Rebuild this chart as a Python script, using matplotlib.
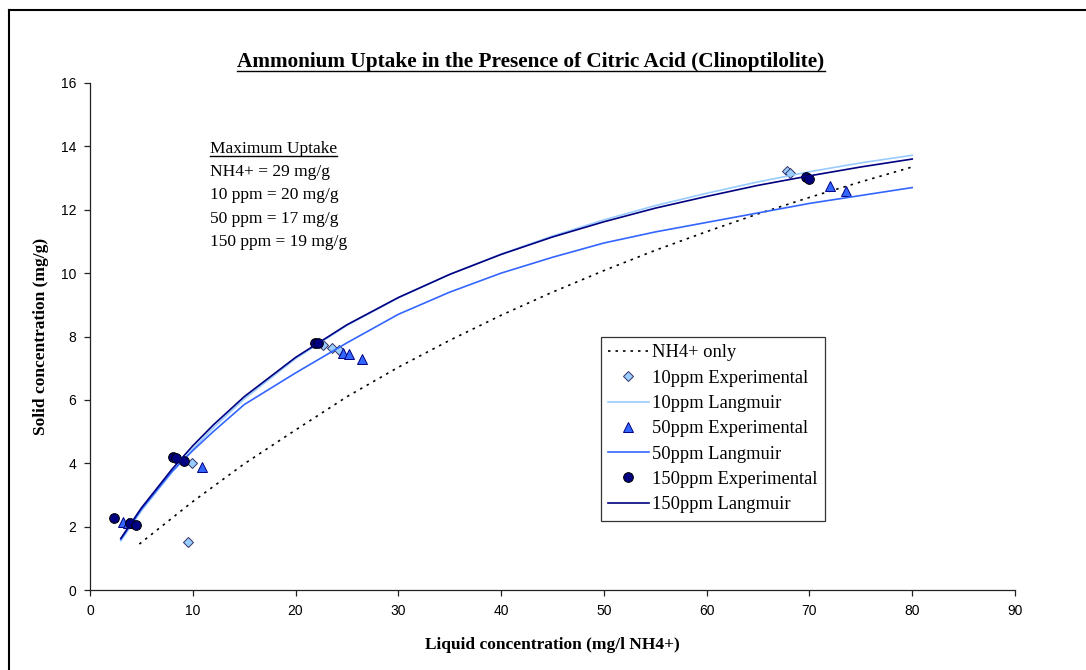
import numpy as np
import matplotlib.pyplot as plt
from matplotlib.lines import Line2D

# experimental points
x_10 = [9.5, 9.9, 22.7, 23.5, 24.2, 67.8, 68.1]
y_10 = [1.51, 4.02, 7.73, 7.65, 7.57, 13.22, 13.17]

x_50 = [3.2, 3.7, 10.9, 24.6, 25.2, 26.5, 72.0, 73.6]
y_50 = [2.15, 2.12, 3.89, 7.47, 7.44, 7.28, 12.74, 12.59]

x_150 = [2.3, 3.9, 4.5, 8.1, 8.4, 9.1, 21.9, 22.2, 69.7, 70.0]
y_150 = [2.26, 2.1, 2.05, 4.19, 4.15, 4.07, 7.78, 7.78, 13.02, 12.96]

# fitted curves
xc = [3, 5, 8, 10, 12, 15, 20, 25, 30, 35, 40, 45, 50, 55, 60, 65, 70, 75, 80]
yc_10 = [1.55, 2.5, 3.72, 4.45, 5.12, 6.03, 7.3, 8.35, 9.22, 9.96, 10.6, 11.17, 11.68, 12.13, 12.52, 12.88, 13.2, 13.48, 13.72]
yc_50 = [1.6, 2.55, 3.75, 4.4, 5.0, 5.85, 6.85, 7.8, 8.7, 9.4, 10.0, 10.5, 10.95, 11.3, 11.6, 11.9, 12.2, 12.45, 12.7]
yc_150 = [1.63, 2.59, 3.82, 4.55, 5.21, 6.1, 7.34, 8.37, 9.23, 9.96, 10.59, 11.14, 11.62, 12.05, 12.42, 12.77, 13.07, 13.35, 13.6]

x_nh4 = [4.8, 10, 15, 20, 25, 30, 35, 40, 45, 50, 55, 60, 65, 70, 75, 80]
y_nh4 = [1.45, 2.79, 3.98, 5.05, 6.1, 7.03, 7.88, 8.67, 9.4, 10.08, 10.72, 11.31, 11.87, 12.39, 12.88, 13.35]

max_lines = ['NH4+ = 29 mg/g', '10 ppm = 20 mg/g', '50 ppm = 17 mg/g', '150 ppm = 19 mg/g']

serif = 'Liberation Serif'
sans = 'Liberation Sans'

W, H = 1086, 670
fig = plt.figure(figsize=(W / 100, H / 100), dpi=100)
ax = fig.add_axes([90 / W, 1 - 590 / H, 925 / W, 507 / H])

ax.plot(x_nh4, y_nh4, ls=(0, (1.5, 3)), color='black', lw=1.2, label='NH4+ only')
ax.plot(x_10, y_10, ls='none', marker='D', ms=5, mfc='#99CCFF', mec='#333366', mew=0.7,
        label='10ppm Experimental')
ax.plot(xc, yc_10, color='#99CCFF', lw=1.2, label='10ppm Langmuir')
ax.plot(x_50, y_50, ls='none', marker='^', ms=7, mfc='#3366FF', mec='#000080', mew=0.7,
        label='50ppm Experimental')
ax.plot(xc, yc_50, color='#3366FF', lw=1.2, label='50ppm Langmuir')
ax.plot(x_150, y_150, ls='none', marker='o', ms=7, mfc='#000080', mec='black', mew=0.7,
        label='150ppm Experimental')
ax.plot(xc, yc_150, color='#000080', lw=1.2, label='150ppm Langmuir')

ax.set_xlim(0, 90)
ax.set_ylim(0, 16)
ax.set_xticks(np.arange(0, 91, 10))
ax.set_yticks(np.arange(0, 17, 2))
for s in ['top', 'right']:
    ax.spines[s].set_visible(False)
for s in ['left', 'bottom']:
    ax.spines[s].set_color('#222222')
    ax.spines[s].set_linewidth(0.9)
ax.tick_params(direction='out', length=4, width=0.9, color='#222222', labelsize=10, pad=6)
for lab in ax.get_xticklabels() + ax.get_yticklabels():
    lab.set_family(sans)

ax.set_xlabel('Liquid concentration (mg/l NH4+)', family=serif, fontweight='bold', fontsize=12.5, labelpad=14)
ax.set_ylabel('Solid concentration (mg/g)', family=serif, fontweight='bold', fontsize=12.5, labelpad=8)

leg = ax.legend(loc='upper left', bbox_to_anchor=(0.552, 0.499), frameon=True, fancybox=False,
                edgecolor='black', numpoints=1, handlelength=2.2, handletextpad=0.2,
                labelspacing=0.45, borderpad=0.4, borderaxespad=0,
                prop={'family': serif, 'size': 13.3})
leg.get_frame().set_linewidth(0.9)

title = fig.text(531 / W, 1 - 62 / H, 'Ammonium Uptake in the Presence of Citric Acid (Clinoptilolite)',
                 family=serif, fontweight='bold', fontsize=15.3, ha='center', va='center')

# annotation block
head = fig.text(210 / W, 1 - 149 / H, 'Maximum Uptake', family=serif, fontsize=12.5, va='center')
for i, t in enumerate(max_lines):
    fig.text(210 / W, 1 - (172 + 23.3 * i) / H, t, family=serif, fontsize=12.5, va='center')

fig.canvas.draw()
r = fig.canvas.get_renderer()
for t in [title, head]:
    bb = t.get_window_extent(r).transformed(fig.transFigure.inverted())
    yline = bb.y0 + 0.002
    fig.add_artist(Line2D([bb.x0, bb.x1], [yline, yline], color='black', lw=1.0))

# outer frame (left and top edges visible)
fig.add_artist(Line2D([9 / W, 9 / W], [0, 1 - 10 / H], color='black', lw=1.5))
fig.add_artist(Line2D([9 / W, 1], [1 - 10 / H, 1 - 10 / H], color='black', lw=1.5))

fig.savefig('out.png', dpi=100)
